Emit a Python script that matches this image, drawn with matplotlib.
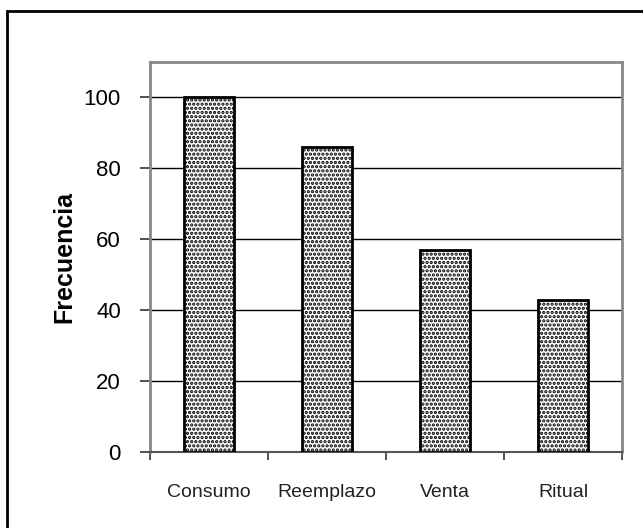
import matplotlib
matplotlib.use("Agg")
import matplotlib.pyplot as plt
from matplotlib.patches import Rectangle

categories = ["Consumo", "Reemplazo", "Venta", "Ritual"]
values = [100, 86, 57, 43]
yticks = [0, 20, 40, 60, 80, 100]

plt.rcParams['font.family'] = ['Liberation Sans', 'DejaVu Sans']
plt.rcParams['hatch.linewidth'] = 1.6

fig = plt.figure(figsize=(6.43, 5.28), dpi=100)
fig.patches.append(Rectangle((7/643, -0.1), 1.2, 1 - 11/528 + 0.1, transform=fig.transFigure,
                             fill=False, edgecolor='black', linewidth=2))

ax = fig.add_axes([150/643, 1 - 452/528, (622-150)/643, (452-62)/528])
x = list(range(len(categories)))
ax.bar(x, values, width=0.42, color='white', edgecolor='black', linewidth=2,
       hatch='....', zorder=3)
ax.set_xlim(-0.5, 3.5)
ax.set_ylim(0, 110)
ax.set_yticks(yticks)
ax.set_yticklabels([str(v) for v in yticks], fontsize=16)
ax.yaxis.grid(True, color='black', linewidth=1)
ax.set_axisbelow(True)
ax.set_xticks([i + 0.5 for i in range(-1, len(categories))])
ax.set_xticklabels([])
ax.set_xticks(x, minor=True)
ax.set_xticklabels(categories, minor=True, fontsize=14, color='#222222')
ax.tick_params(axis='x', which='minor', length=0, pad=23)
ax.tick_params(axis='x', which='major', length=6, width=1.2, direction='out', color='#333333')
ax.tick_params(axis='y', length=7, width=1.2, direction='out', color='#333333', pad=14)
for s in ['left', 'right', 'top']:
    ax.spines[s].set_color('#888888')
    ax.spines[s].set_linewidth(2)
ax.spines['bottom'].set_color('#555555')
ax.spines['bottom'].set_linewidth(1.5)
ax.set_ylabel("Frecuencia", fontsize=18, fontweight='bold', labelpad=5)

fig.savefig("out.png", dpi=100)
